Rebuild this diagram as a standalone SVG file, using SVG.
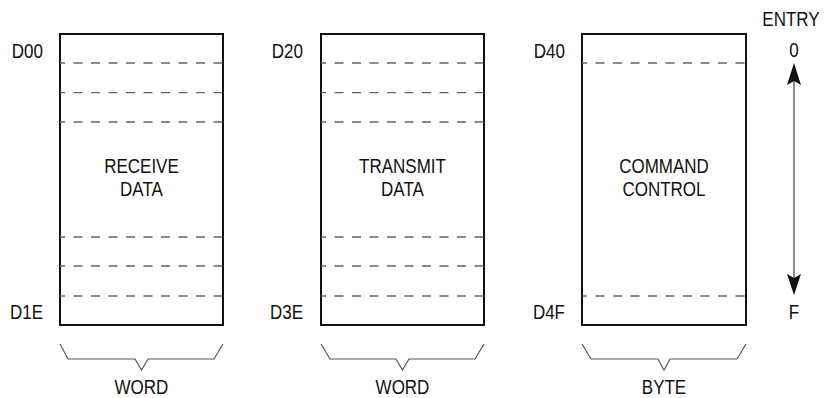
<svg xmlns="http://www.w3.org/2000/svg" width="825" height="398" viewBox="0 0 825 398">
<style>
text{font-family:"Liberation Sans",Arial,sans-serif;font-size:20px;fill:#111}
.m{text-anchor:middle}
.e{text-anchor:end}
.box{fill:#fff;stroke:#111;stroke-width:2}
.dash{stroke:#666;stroke-width:1.3;stroke-dasharray:9 8.5;stroke-dashoffset:4;fill:none}
.brace{fill:none;stroke:#555;stroke-width:1.2}
</style>
<g id="receive">
<rect class="box" x="60" y="34" width="163" height="291"/>
<path class="dash" d="M60 63H223M60 92.7H223M60 122H223M60 237H223M60 266H223M60 296H223"/>
<path class="brace" d="M60 344L68 359H135L141.5 370L148 359H214L223 344"/>
<g transform="scale(0.85 1)">
<text class="m" x="166.47" y="173">RECEIVE</text>
<text class="m" x="166.47" y="196">DATA</text>
<text class="e" x="50.59" y="58">D00</text>
<text class="e" x="50.59" y="319">D1E</text>
<text class="m" x="166.47" y="394">WORD</text>
</g>
</g>
<g id="transmit">
<rect class="box" x="321" y="34" width="163" height="291"/>
<path class="dash" d="M321 63H484M321 92.7H484M321 122H484M321 237H484M321 266H484M321 296H484"/>
<path class="brace" d="M321 344L330 359H396L402.5 370L409 359H475L484 344"/>
<g transform="scale(0.85 1)">
<text class="m" x="473.53" y="173">TRANSMIT</text>
<text class="m" x="473.53" y="196">DATA</text>
<text class="e" x="356.47" y="58">D20</text>
<text class="e" x="356.47" y="319">D3E</text>
<text class="m" x="473.53" y="394">WORD</text>
</g>
</g>
<g id="command">
<rect class="box" x="582" y="34" width="164" height="291"/>
<path class="dash" d="M582 63H746M582 296H746"/>
<path class="brace" d="M582 344L591 359H658L664 370L670 359H737L746 344"/>
<g transform="scale(0.85 1)">
<text class="m" x="781.18" y="173">COMMAND</text>
<text class="m" x="781.18" y="196">CONTROL</text>
<text class="e" x="664.71" y="58">D40</text>
<text class="e" x="664.71" y="319">D4F</text>
<text class="m" x="781.18" y="394">BYTE</text>
</g>
</g>
<g id="entry">
<g transform="scale(0.85 1)">
<text class="m" x="930.59" y="26">ENTRY</text>
<text class="m" x="934.12" y="57">0</text>
<text class="m" x="934.12" y="319">F</text>
</g>
</g>
<g id="connectors">
<line x1="794" y1="80" x2="794" y2="279" stroke="#555" stroke-width="1.3"/>
<polygon points="794,63 787,85 794,81 801,85" fill="#111"/>
<polygon points="794,295 787,274 794,278 801,274" fill="#111"/>
</g>
</svg>
